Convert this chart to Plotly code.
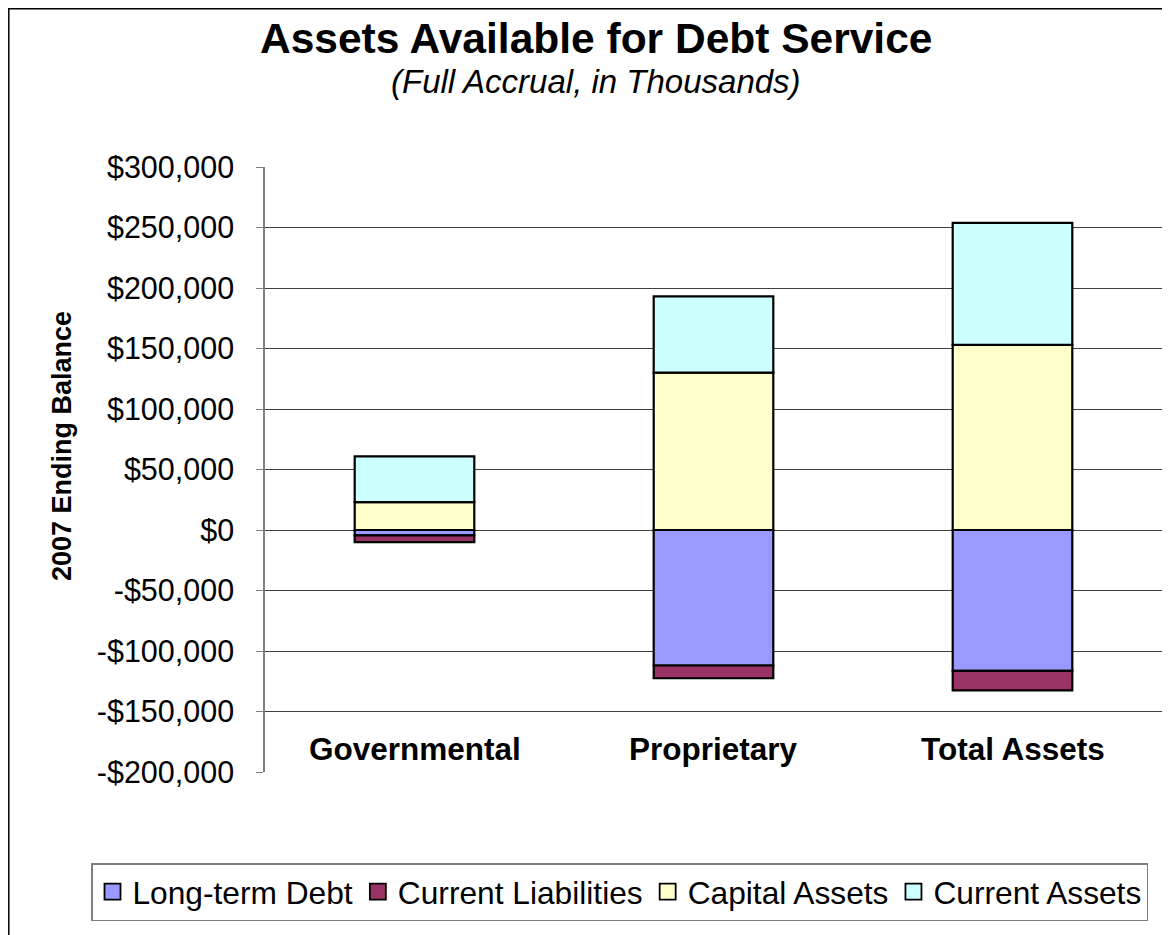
import plotly.graph_objects as go

categories = ["Governmental", "Proprietary", "Total Assets"]
long_term_debt = [-4500, -112000, -116500]
current_liabilities = [-5500, -10500, -16000]
capital_assets = [23000, 130000, 153000]
current_assets = [37800, 63000, 100800]

series_names = ["Long-term Debt", "Current Liabilities", "Capital Assets", "Current Assets"]
series_colors = ["#9999FF", "#993366", "#FFFFCC", "#CCFFFF"]

tick_values = [300000, 250000, 200000, 150000, 100000, 50000, 0, -50000, -100000, -150000, -200000]
tick_labels = ["$300,000", "$250,000", "$200,000", "$150,000", "$100,000", "$50,000", "$0",
               "-$50,000", "-$100,000", "-$150,000", "-$200,000"]

title_text = "Assets Available for Debt Service"
subtitle_text = "(Full Accrual, in Thousands)"
y_title = "2007 Ending Balance"

# page offset introduced by the default body margin of the html page
OFF = 8
W, H = 1170 - OFF, 935 - OFF
ML = 265 - OFF
MT = 167 - OFF
MR = 8
MB = 935 - 772
PW = W - ML - MR
PH = H - MT - MB

def px_x(page_x):
    return (page_x - OFF - ML) / PW

def px_y(page_y):
    return (H - MB - (page_y - OFF)) / PH

FONT = "Liberation Sans, Arial, sans-serif"

fig = go.Figure()
for name, vals, col in zip(series_names,
                           [long_term_debt, current_liabilities, capital_assets, current_assets],
                           series_colors):
    fig.add_trace(go.Bar(
        name=name, x=categories, y=vals, legendgroup=name, showlegend=False,
        marker=dict(color=col, line=dict(color="black", width=2.2)),
    ))
# legend entries with larger square keys
for name, col in zip(series_names, series_colors):
    fig.add_trace(go.Scatter(
        name=name, x=[None], y=[None], mode="markers", legendgroup=name, showlegend=True,
        marker=dict(symbol="square", size=16, color=col, line=dict(color="black", width=1.8)),
    ))

annotations = [
    dict(text=f"<b>{title_text}</b>", x=px_x(596), y=px_y(38), xref="paper", yref="paper",
         showarrow=False, font=dict(size=42.5, color="black", family=FONT), xanchor="center", yanchor="middle"),
    dict(text=f"<i>{subtitle_text}</i>", x=px_x(596), y=px_y(81), xref="paper", yref="paper",
         showarrow=False, font=dict(size=33, color="black", family=FONT), xanchor="center", yanchor="middle"),
    dict(text=f"<b>{y_title}</b>", x=px_x(62), y=px_y(446), xref="paper", yref="paper",
         showarrow=False, textangle=-90, font=dict(size=27, color="black", family=FONT),
         xanchor="center", yanchor="middle"),
]
for c in categories:
    annotations.append(dict(text=f"<b>{c}</b>", x=c, y=px_y(749), xref="x", yref="paper",
                            showarrow=False, font=dict(size=31.5, color="black", family=FONT),
                            xanchor="center", yanchor="middle"))

fig.update_layout(
    width=W, height=H,
    margin=dict(l=ML, r=MR, t=MT, b=MB, pad=0),
    paper_bgcolor="white", plot_bgcolor="white",
    barmode="relative", bargap=0.6,
    font=dict(family=FONT, color="black"),
    showlegend=True,
    legend=dict(orientation="h", x=px_x(91), y=px_y(863), xanchor="left", yanchor="top",
                bgcolor="white", bordercolor="#808080", borderwidth=1.5,
                font=dict(size=31.7, family=FONT, color="black"),
                traceorder="normal", itemwidth=30),
    xaxis=dict(showticklabels=False, showgrid=False, zeroline=False, showline=False,
               ticks="", range=[-0.5, 2.5]),
    yaxis=dict(range=[-200000, 300000], tickvals=tick_values, ticktext=tick_labels,
               showgrid=True, gridcolor="#404040", gridwidth=1, zeroline=False,
               showline=True, linecolor="#808080", linewidth=1.5,
               ticks="outside", ticklen=7, tickcolor="#808080",
               ticklabelstandoff=16,
               tickfont=dict(size=30.5, family=FONT, color="black")),
    annotations=annotations,
    shapes=[dict(type="rect", xref="paper", yref="paper",
                 x0=px_x(8.8), x1=px_x(1185), y0=px_y(950), y1=px_y(8.8),
                 line=dict(color="black", width=1.5), fillcolor="rgba(0,0,0,0)", layer="below")],
)

fig.write_html("out.html")
